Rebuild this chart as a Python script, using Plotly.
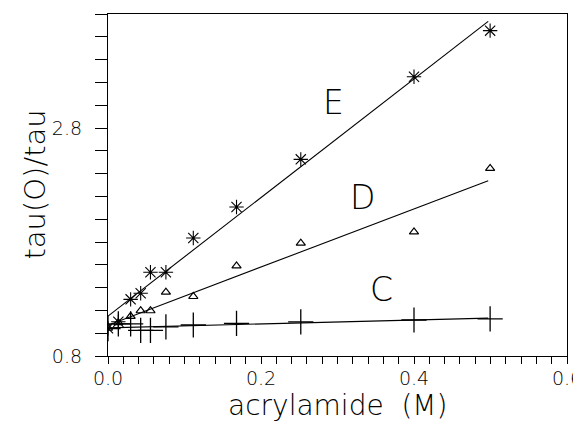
import plotly.graph_objects as go

# concentrations (M)
acrylamide = [0.0, 0.0135, 0.0296, 0.0427, 0.0555, 0.0757, 0.1115, 0.168, 0.252, 0.400, 0.4995]

# tau(0)/tau values
series_E = [1.043, 1.10, 1.297, 1.35, 1.535, 1.535, 1.835, 2.107, 2.525, 3.25, 3.654]
series_D = [1.045, 1.092, 1.148, 1.197, 1.197, 1.36, 1.322, 1.59, 1.79, 1.888, 2.446]
series_C = [1.04, 1.082, 1.082, 1.024, 1.024, 1.055, 1.072, 1.087, 1.10, 1.116, 1.125]

# fitted lines (endpoints)
fit_x = [0.0, 0.497]
fit_E = [1.15, 3.735]
fit_D = [1.07, 2.338]
fit_C = [1.047, 1.132]

labels = ["E", "D", "C"]
label_x = [0.2945, 0.333, 0.357]
label_y = [3.02, 2.19, 1.38]

x_labels = [0.0, 0.2, 0.4, 0.6]
y_labels = [0.8, 2.8]
x_tick_step = 0.02
y_tick_step = 0.2

x_title = "acrylamide  (M)"
y_title = "tau(O)/tau"

FONT = "DejaVu Sans"

x_ticks = [round(i * x_tick_step, 2) for i in range(31)]
y_ticks = [round(0.8 + i * y_tick_step, 2) for i in range(16)]
x_text = [f"{v:.1f}" if any(abs(v - l) < 1e-9 for l in x_labels) else "" for v in x_ticks]
y_text = [f"{v:.1f}" if any(abs(v - l) < 1e-9 for l in y_labels) else "" for v in y_ticks]

fig = go.Figure()
for fy in (fit_E, fit_D, fit_C):
    fig.add_trace(go.Scatter(x=fit_x, y=fy, mode="lines",
                             line=dict(color="black", width=1.1), showlegend=False))

fig.add_trace(go.Scatter(x=acrylamide, y=series_C, mode="markers", showlegend=False,
                         marker=dict(symbol="cross-thin-open", size=18, color="black",
                                     line=dict(color="black", width=1.3))))
fig.add_trace(go.Scatter(x=acrylamide, y=series_D, mode="markers", showlegend=False,
                         marker=dict(symbol="triangle-up-open", size=8, color="black",
                                     line=dict(color="black", width=1.2))))
fig.add_trace(go.Scatter(x=acrylamide, y=series_E, mode="markers", showlegend=False,
                         marker=dict(symbol="asterisk-open", size=12, color="black",
                                     line=dict(color="black", width=1.1))))

for t, lx, ly in zip(labels, label_x, label_y):
    fig.add_annotation(x=lx, y=ly, text=t, showarrow=False,
                       font=dict(family=FONT, size=33, color="black", weight=200))

# axis titles
fig.add_annotation(xref="paper", yref="paper", x=0.5, y=-0.145, text=x_title,
                   showarrow=False, xanchor="center", yanchor="middle",
                   font=dict(family=FONT, size=28, color="black", weight=200))
fig.add_annotation(xref="paper", yref="paper", x=-0.16, y=0.5, text=y_title,
                   showarrow=False, xanchor="center", yanchor="middle", textangle=-90,
                   font=dict(family=FONT, size=29, color="black", weight=200))

# the page body adds an 8px offset; size/margins compensate so the plot sits as in the reference
fig.update_layout(
    width=573, height=417,
    margin=dict(l=100, r=14, t=6, b=69, autoexpand=False),
    paper_bgcolor="white", plot_bgcolor="white",
    font=dict(family=FONT, color="black", weight=200),
)
fig.update_xaxes(
    range=[0, 0.6], tickmode="array", tickvals=x_ticks, ticktext=x_text,
    automargin=False,
    showline=True, linecolor="black", linewidth=1.3, mirror=True,
    showgrid=False, zeroline=False,
    ticks="outside", ticklen=7, tickcolor="black", tickwidth=1.1,
    ticklabeloverflow="allow", ticklabelstandoff=-2,
    tickfont=dict(family=FONT, size=19, color="black", weight=200),
)
fig.update_yaxes(
    range=[0.8, 3.8], tickmode="array", tickvals=y_ticks, ticktext=y_text,
    automargin=False,
    showline=True, linecolor="black", linewidth=1.3, mirror=True,
    showgrid=False, zeroline=False,
    ticks="outside", ticklen=12, tickcolor="black", tickwidth=1.1,
    ticklabelstandoff=9,
    tickfont=dict(family=FONT, size=19, color="black", weight=200),
)

fig.write_html("out.html")
